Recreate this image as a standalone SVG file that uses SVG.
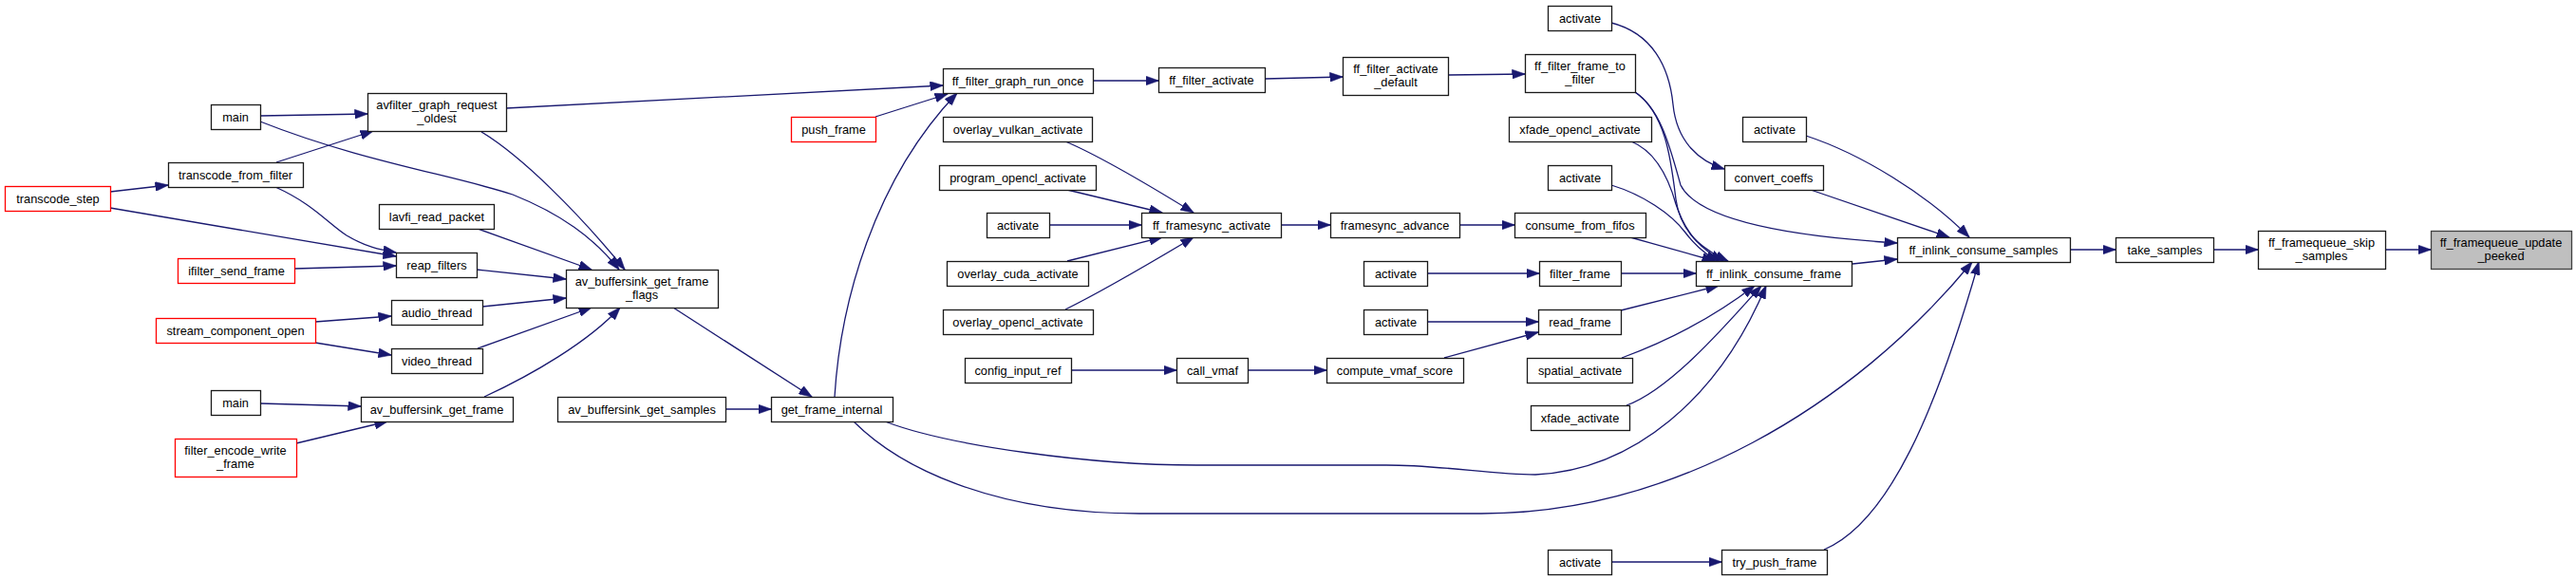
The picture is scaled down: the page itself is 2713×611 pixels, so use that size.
<svg xmlns="http://www.w3.org/2000/svg" width="2713" height="611" viewBox="0 0 2713 611">
<style>
.node rect{fill:#ffffff;stroke:#1a1a1a;stroke-width:1.3}
.node.red rect{stroke:#ff0000}
.node.root rect{fill:#bfbfbf;stroke:#404040}
.node text{font-family:"Liberation Sans",Arial,sans-serif;font-size:12.8px;fill:#000;text-anchor:middle}
#edges path{fill:none;stroke:#191970;stroke-width:1.3;marker-end:url(#arr)}
</style>
<defs>
<marker id="arr" markerUnits="userSpaceOnUse" markerWidth="14" markerHeight="10" refX="13.5" refY="5" orient="auto">
<path d="M0,0 L14,5 L0,10 z" fill="#191970" stroke="#191970" stroke-width="0.5"/>
</marker>
</defs>
<rect width="2713" height="611" fill="#ffffff"/>
<g id="edges">
<path d="M2512,263 L2560,263"/>
<path d="M2331,263 L2378,263"/>
<path d="M2180,263 L2228,263"/>
<path d="M1902,143 C1960,162 2030,205 2074,250"/>
<path d="M1907,200 L2053,250"/>
<path d="M1722,97 C1750,115 1760,160 1770,195 C1790,235 1900,250 1998,256"/>
<path d="M1951,278 L1998,273"/>
<path d="M899,444 C950,495 1050,541 1200,541 L1560,541 C1760,541 1950,430 2077,276"/>
<path d="M932,444 C1000,470 1150,490 1260,490 L1460,490 C1520,490 1570,500 1617,500 C1720,495 1810,420 1860,301"/>
<path d="M1921,579 C1990,550 2040,430 2084,276"/>
<path d="M1697,592 L1813,592"/>
<path d="M1525,79 L1606,78"/>
<path d="M1722,97 C1755,120 1760,170 1765,210 C1770,245 1792,262 1820,275"/>
<path d="M1697,24 C1740,35 1758,70 1762,110 C1766,150 1790,170 1816,178"/>
<path d="M1718,149 C1745,160 1758,190 1765,215 C1775,245 1790,262 1815,275"/>
<path d="M1697,195 C1730,205 1760,225 1775,245 C1785,258 1795,268 1810,275"/>
<path d="M1717,250 L1806,275"/>
<path d="M1537,237 L1595,237"/>
<path d="M1503,288 L1621,288"/>
<path d="M1707,288 L1786,288"/>
<path d="M1503,339 L1620,339"/>
<path d="M1707,327 L1810,301"/>
<path d="M1521,377 L1620,350"/>
<path d="M1708,377 C1760,358 1810,330 1848,301"/>
<path d="M1713,427 C1760,410 1820,340 1855,301"/>
<path d="M1349,237 L1401,237"/>
<path d="M1122,149 C1160,165 1210,195 1257,224"/>
<path d="M1124,200 L1224,224"/>
<path d="M1105,237 L1202,237"/>
<path d="M1124,275 L1224,250"/>
<path d="M1122,326 C1165,305 1215,275 1257,250"/>
<path d="M1151,85 L1220,85"/>
<path d="M1332,83 L1414,81"/>
<path d="M533,114 L993,90"/>
<path d="M922,123 L998,99"/>
<path d="M879,418 C885,320 920,190 1008,98"/>
<path d="M709,324 L855,418"/>
<path d="M764,431 L812,431"/>
<path d="M274,122 L387,120"/>
<path d="M274,128 C380,170 480,185 540,205 C590,225 625,250 652,284"/>
<path d="M507,139 C550,165 610,225 658,284"/>
<path d="M291,171 L393,138"/>
<path d="M116,202 L177,195"/>
<path d="M116,219 L417,270"/>
<path d="M290,197 C330,215 345,235 365,248 C385,260 400,263 417,266"/>
<path d="M310,283 L417,280"/>
<path d="M503,241 L623,284"/>
<path d="M502,284 L596,294"/>
<path d="M508,323 L596,314"/>
<path d="M503,367 L623,324"/>
<path d="M510,418 C560,395 620,360 653,324"/>
<path d="M332,339 L412,333"/>
<path d="M332,361 L412,374"/>
<path d="M274,425 L380,428"/>
<path d="M312,467 L408,444"/>
<path d="M1128,390 L1239,390"/>
<path d="M1314,390 L1397,390"/>
</g>
<g id="n_fq_update" class="node root"><rect x="2560.5" y="243.5" width="148" height="40"/><text x="2634" y="260">ff_framequeue_update</text><text x="2634" y="273.5">_peeked</text></g>
<g id="n_fq_skip" class="node"><rect x="2378.5" y="243.5" width="134" height="40"/><text x="2445" y="260">ff_framequeue_skip</text><text x="2445" y="273.5">_samples</text></g>
<g id="n_take_samples" class="node"><rect x="2228.5" y="250.5" width="103" height="26"/><text x="2280" y="267.5">take_samples</text></g>
<g id="n_inlink_samples" class="node"><rect x="1998.5" y="250.5" width="182" height="26"/><text x="2089" y="267.5">ff_inlink_consume_samples</text></g>
<g id="n_activate_a" class="node"><rect x="1630.5" y="6.5" width="67" height="26"/><text x="1664" y="23.5">activate</text></g>
<g id="n_frame_to_filter" class="node"><rect x="1606.5" y="57.5" width="116" height="40"/><text x="1664" y="74">ff_filter_frame_to</text><text x="1664" y="87.5">_filter</text></g>
<g id="n_xfade_opencl" class="node"><rect x="1589.5" y="123.5" width="150" height="26"/><text x="1664" y="140.5">xfade_opencl_activate</text></g>
<g id="n_activate_b" class="node"><rect x="1835.5" y="123.5" width="67" height="26"/><text x="1869" y="140.5">activate</text></g>
<g id="n_activate_c" class="node"><rect x="1630.5" y="174.5" width="67" height="26"/><text x="1664" y="191.5">activate</text></g>
<g id="n_convert_coeffs" class="node"><rect x="1816.5" y="174.5" width="104" height="26"/><text x="1868" y="191.5">convert_coeffs</text></g>
<g id="n_consume_from_fifos" class="node"><rect x="1595.5" y="224.5" width="138" height="26"/><text x="1664" y="241.5">consume_from_fifos</text></g>
<g id="n_filter_frame" class="node"><rect x="1621.5" y="275.5" width="86" height="26"/><text x="1664" y="292.5">filter_frame</text></g>
<g id="n_inlink_frame" class="node"><rect x="1786.5" y="275.5" width="164" height="26"/><text x="1868" y="292.5">ff_inlink_consume_frame</text></g>
<g id="n_read_frame" class="node"><rect x="1620.5" y="326.5" width="87" height="26"/><text x="1664" y="343.5">read_frame</text></g>
<g id="n_spatial_activate" class="node"><rect x="1608.5" y="377.5" width="111" height="26"/><text x="1664" y="394.5">spatial_activate</text></g>
<g id="n_xfade_activate" class="node"><rect x="1612.5" y="427.5" width="104" height="26"/><text x="1664" y="444.5">xfade_activate</text></g>
<g id="n_activate_d" class="node"><rect x="1630.5" y="579.5" width="67" height="26"/><text x="1664" y="596.5">activate</text></g>
<g id="n_try_push_frame" class="node"><rect x="1813.5" y="579.5" width="111" height="26"/><text x="1869" y="596.5">try_push_frame</text></g>
<g id="n_activate_default" class="node"><rect x="1414.5" y="60.5" width="111" height="40"/><text x="1470" y="77">ff_filter_activate</text><text x="1470" y="90.5">_default</text></g>
<g id="n_filter_activate" class="node"><rect x="1220.5" y="71.5" width="112" height="26"/><text x="1276" y="88.5">ff_filter_activate</text></g>
<g id="n_graph_run_once" class="node"><rect x="993.5" y="72.5" width="158" height="26"/><text x="1072" y="89.5">ff_filter_graph_run_once</text></g>
<g id="n_push_frame" class="node red"><rect x="833.5" y="123.5" width="89" height="26"/><text x="878" y="140.5">push_frame</text></g>
<g id="n_overlay_vulkan" class="node"><rect x="993.5" y="123.5" width="157" height="26"/><text x="1072" y="140.5">overlay_vulkan_activate</text></g>
<g id="n_program_opencl" class="node"><rect x="989.5" y="174.5" width="165" height="26"/><text x="1072" y="191.5">program_opencl_activate</text></g>
<g id="n_activate_e" class="node"><rect x="1039.5" y="224.5" width="66" height="26"/><text x="1072" y="241.5">activate</text></g>
<g id="n_framesync_activate" class="node"><rect x="1202.5" y="224.5" width="147" height="26"/><text x="1276" y="241.5">ff_framesync_activate</text></g>
<g id="n_framesync_advance" class="node"><rect x="1401.5" y="224.5" width="136" height="26"/><text x="1469" y="241.5">framesync_advance</text></g>
<g id="n_overlay_cuda" class="node"><rect x="997.5" y="275.5" width="149" height="26"/><text x="1072" y="292.5">overlay_cuda_activate</text></g>
<g id="n_overlay_opencl" class="node"><rect x="993.5" y="326.5" width="158" height="26"/><text x="1072" y="343.5">overlay_opencl_activate</text></g>
<g id="n_activate_f" class="node"><rect x="1436.5" y="275.5" width="67" height="26"/><text x="1470" y="292.5">activate</text></g>
<g id="n_activate_g" class="node"><rect x="1436.5" y="326.5" width="67" height="26"/><text x="1470" y="343.5">activate</text></g>
<g id="n_config_input_ref" class="node"><rect x="1016.5" y="377.5" width="112" height="26"/><text x="1072" y="394.5">config_input_ref</text></g>
<g id="n_call_vmaf" class="node"><rect x="1239.5" y="377.5" width="75" height="26"/><text x="1277" y="394.5">call_vmaf</text></g>
<g id="n_compute_vmaf_score" class="node"><rect x="1397.5" y="377.5" width="144" height="26"/><text x="1469" y="394.5">compute_vmaf_score</text></g>
<g id="n_get_frame_internal" class="node"><rect x="812.5" y="418.5" width="128" height="26"/><text x="876" y="435.5">get_frame_internal</text></g>
<g id="n_get_samples" class="node"><rect x="587.5" y="418.5" width="177" height="26"/><text x="676" y="435.5">av_buffersink_get_samples</text></g>
<g id="n_get_frame_flags" class="node"><rect x="596.5" y="284.5" width="160" height="40"/><text x="676" y="301">av_buffersink_get_frame</text><text x="676" y="314.5">_flags</text></g>
<g id="n_request_oldest" class="node"><rect x="387.5" y="98.5" width="146" height="40"/><text x="460" y="115">avfilter_graph_request</text><text x="460" y="128.5">_oldest</text></g>
<g id="n_main1" class="node"><rect x="222.5" y="110.5" width="52" height="26"/><text x="248" y="127.5">main</text></g>
<g id="n_transcode_from_filter" class="node"><rect x="177.5" y="171.5" width="142" height="26"/><text x="248" y="188.5">transcode_from_filter</text></g>
<g id="n_transcode_step" class="node red"><rect x="5.5" y="196.5" width="111" height="26"/><text x="61" y="213.5">transcode_step</text></g>
<g id="n_lavfi_read_packet" class="node"><rect x="399.5" y="215.5" width="121" height="26"/><text x="460" y="232.5">lavfi_read_packet</text></g>
<g id="n_reap_filters" class="node"><rect x="417.5" y="266.5" width="85" height="26"/><text x="460" y="283.5">reap_filters</text></g>
<g id="n_ifilter_send_frame" class="node red"><rect x="187.5" y="272.5" width="123" height="26"/><text x="249" y="289.5">ifilter_send_frame</text></g>
<g id="n_audio_thread" class="node"><rect x="412.5" y="316.5" width="96" height="26"/><text x="460" y="333.5">audio_thread</text></g>
<g id="n_stream_component_open" class="node red"><rect x="164.5" y="335.5" width="168" height="26"/><text x="248" y="352.5">stream_component_open</text></g>
<g id="n_video_thread" class="node"><rect x="412.5" y="367.5" width="96" height="26"/><text x="460" y="384.5">video_thread</text></g>
<g id="n_main2" class="node"><rect x="222.5" y="411.5" width="52" height="26"/><text x="248" y="428.5">main</text></g>
<g id="n_get_frame" class="node"><rect x="380.5" y="418.5" width="160" height="26"/><text x="460" y="435.5">av_buffersink_get_frame</text></g>
<g id="n_filter_encode_write_frame" class="node red"><rect x="184.5" y="462.5" width="128" height="40"/><text x="248" y="479">filter_encode_write</text><text x="248" y="492.5">_frame</text></g>
</svg>
